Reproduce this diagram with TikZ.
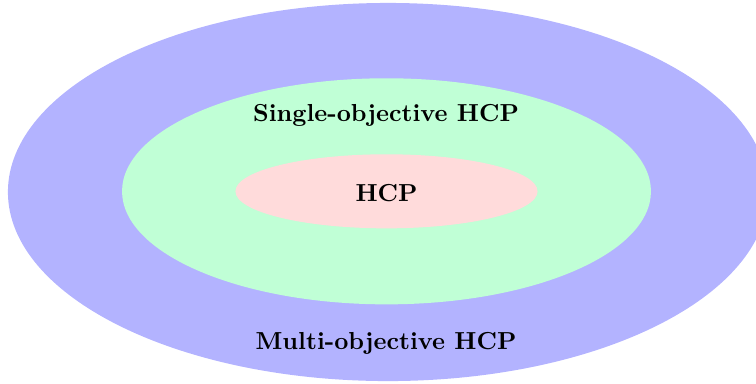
\documentclass[tikz,border=0pt]{standalone}
\usetikzlibrary{shapes.geometric}
\definecolor{outerblue}{RGB}{179,179,255}
\definecolor{mintgreen}{RGB}{192,255,214}
\definecolor{palepink}{RGB}{255,219,219}
\tikzset{
  region/.style={ellipse, inner sep=0pt, draw=none},
  regionlabel/.style={font=\bfseries, anchor=base, inner sep=0pt},
}
\begin{document}
\begin{tikzpicture}[x=0.4065pt, y=-0.4065pt]
  \useasboundingbox (0,0) rectangle (756,383);
  \clip (0,0) rectangle (756,383);
  % nested problem classes
  \node[region, fill=outerblue, minimum width=309pt, minimum height=153.7pt] (multi) at (388,192) {};
  \node[region, fill=mintgreen, minimum width=215pt, minimum height=91.9pt] (single) at (386.5,191.3) {};
  \node[region, fill=palepink, minimum width=122.8pt, minimum height=30.1pt] (hcp) at (386.5,191.3) {};
  % class names
  \node[regionlabel] (singlelabel) at (386,121.7) {Single-objective HCP};
  \node[regionlabel] (hcplabel) at (386.5,201) {HCP};
  \node[regionlabel] (multilabel) at (386,349.3) {Multi-objective HCP};
\end{tikzpicture}
\end{document}
